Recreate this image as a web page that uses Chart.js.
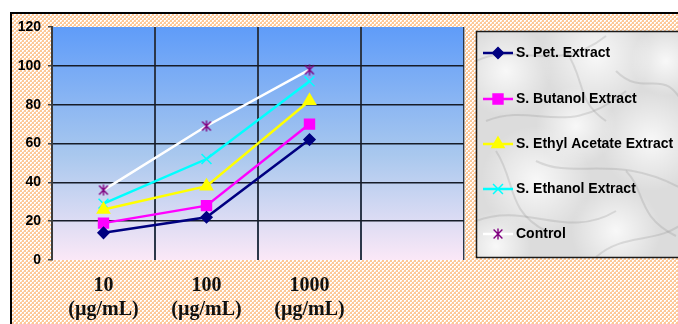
<!DOCTYPE html>
<html>
<head>
<meta charset="utf-8">
<script src="https://cdn.jsdelivr.net/npm/chart.js@4.4.1/dist/chart.umd.min.js"></script>
<style>
  html, body { margin: 0; padding: 0; background: #ffffff; }
  #wrap { width: 678px; height: 324px; position: relative; }
  canvas { display: block; }
</style>
</head>
<body>
<div id="wrap"><canvas id="chart" width="678" height="324"></canvas></div>
<script>
// Concentration categories (the fourth slot is left empty on purpose)
const categories = [['10', '(µg/mL)'], ['100', '(µg/mL)'], ['1000', '(µg/mL)'], ''];

// Activity (%) per extract at each concentration
const petExtract          = [14, 22, 62];
const butanolExtract      = [19, 28, 70];
const ethylAcetateExtract = [26, 38, 82];
const ethanolExtract      = [29, 52, 92];
const controlValues       = [36, 69, 98];

const seriesNames = ['S. Pet. Extract', 'S. Butanol Extract', 'S. Ethyl Acetate Extract', 'S. Ethanol Extract', 'Control'];

// Y axis range and step
const yMin = 0, yMax = 120, yStep = 20;

// Asterisk marker (x with a vertical bar)
function asteriskMarker(color, size) {
  const c = document.createElement('canvas');
  c.width = size; c.height = size;
  const g = c.getContext('2d');
  g.strokeStyle = color;
  g.lineWidth = 1.4;
  const m = size / 2, r = size / 2 - 0.5, d = r * 0.8;
  g.beginPath();
  g.moveTo(m - d, m - d); g.lineTo(m + d, m + d);
  g.moveTo(m + d, m - d); g.lineTo(m - d, m + d);
  g.moveTo(m, m - r); g.lineTo(m, m + r);
  g.stroke();
  return c;
}
const controlMarker = asteriskMarker('#800080', 12);

// Peach dotted fill for the outer panel
function peachTile() {
  const c = document.createElement('canvas');
  c.width = 4; c.height = 4;
  const g = c.getContext('2d');
  g.fillStyle = '#fdc898';
  g.fillRect(0, 0, 4, 4);
  g.fillStyle = '#ffffff';
  g.fillRect(0, 0, 2, 2);
  g.fillRect(2, 2, 2, 2);
  g.fillStyle = '#fee0c4';
  g.fillRect(1, 1, 1, 1);
  g.fillRect(3, 3, 1, 1);
  return c;
}

// Light marble texture for the legend panel
function drawMarble(ctx, x, y, w, h) {
  ctx.save();
  ctx.beginPath(); ctx.rect(x, y, w, h); ctx.clip();
  ctx.fillStyle = '#dcdcdc';
  ctx.fillRect(x, y, w, h);
  const blobs = [[30, 40, 45], [120, 25, 55], [175, 110, 50], [60, 150, 55], [140, 200, 45], [20, 215, 35], [100, 95, 40], [190, 30, 35]];
  blobs.forEach(([bx, by, br]) => {
    const gr = ctx.createRadialGradient(x + bx, y + by, 0, x + bx, y + by, br);
    gr.addColorStop(0, 'rgba(255,255,255,0.8)');
    gr.addColorStop(1, 'rgba(255,255,255,0)');
    ctx.fillStyle = gr;
    ctx.fillRect(x, y, w, h);
  });
  const veins = [
    [[0, 30], [40, 10], [80, 45], [130, 5]],
    [[10, 90], [60, 70], [90, 110], [150, 60]],
    [[60, 130], [100, 150], [140, 120], [210, 160]],
    [[0, 190], [50, 170], [90, 210], [140, 180]],
    [[120, 226], [150, 200], [180, 215], [210, 190]],
    [[140, 40], [170, 70], [190, 30], [210, 80]],
    [[20, 120], [40, 150], [30, 180], [70, 200]],
    [[90, 20], [110, 50], [100, 70], [130, 90]],
    [[150, 140], [170, 160], [160, 185], [200, 205]]
  ];
  ctx.strokeStyle = 'rgba(130,130,130,0.22)';
  ctx.lineWidth = 2;
  veins.forEach(v => {
    ctx.beginPath();
    ctx.moveTo(x + v[0][0], y + v[0][1]);
    ctx.bezierCurveTo(x + v[1][0], y + v[1][1], x + v[2][0], y + v[2][1], x + v[3][0], y + v[3][1]);
    ctx.stroke();
  });
  ctx.restore();
}

const backdrop = {
  id: 'backdrop',
  beforeDraw(chart) {
    const ctx = chart.ctx, a = chart.chartArea;
    ctx.save();
    ctx.fillStyle = '#ffffff';
    ctx.fillRect(0, 0, chart.width, chart.height);
    ctx.fillStyle = ctx.createPattern(peachTile(), 'repeat');
    ctx.fillRect(12, 14, chart.width - 12, chart.height - 14);
    // outer frame
    ctx.strokeStyle = '#000000';
    ctx.lineWidth = 2;
    ctx.beginPath();
    ctx.moveTo(11, chart.height); ctx.lineTo(11, 13); ctx.lineTo(chart.width, 13);
    ctx.stroke();
    // plot area fill
    const gr = ctx.createLinearGradient(0, a.top, 0, a.bottom);
    gr.addColorStop(0, '#5f9cf9');
    gr.addColorStop(0.55, '#a9c8ee');
    gr.addColorStop(1, '#fbe8f7');
    ctx.fillStyle = gr;
    ctx.fillRect(a.left, a.top, a.right - a.left, a.bottom - a.top);
    ctx.restore();
  },
  afterDraw(chart) {
    const ctx = chart.ctx, a = chart.chartArea;
    ctx.save();
    // right edge of plot area
    ctx.strokeStyle = '#a8a8a8';
    ctx.lineWidth = 1;
    ctx.beginPath();
    ctx.moveTo(a.right + 0.5, a.top); ctx.lineTo(a.right + 0.5, a.bottom);
    ctx.stroke();

    // legend panel
    const lx = 476, ly = 31, lw = 210, lh = 226;
    drawMarble(ctx, lx, ly, lw, lh);
    ctx.strokeStyle = '#1a1a1a';
    ctx.lineWidth = 1.5;
    ctx.strokeRect(lx + 0.5, ly + 0.5, lw, lh);

    const rowY = [53, 99, 144, 189, 234];
    chart.data.datasets.forEach((ds, i) => {
      const y = rowY[i];
      ctx.strokeStyle = ds.borderColor;
      ctx.lineWidth = 2.5;
      ctx.beginPath();
      ctx.moveTo(483, y); ctx.lineTo(513, y);
      ctx.stroke();
      if (ds.pointStyle instanceof HTMLCanvasElement) {
        ctx.drawImage(ds.pointStyle, 498 - ds.pointStyle.width / 2, y - ds.pointStyle.height / 2);
      } else {
        ctx.fillStyle = ds.pointBackgroundColor;
        ctx.strokeStyle = ds.pointBorderColor;
        ctx.lineWidth = ds.pointBorderWidth;
        Chart.helpers.drawPoint(ctx, {
          pointStyle: ds.pointStyle,
          radius: ds.pointRadius,
          rotation: 0,
          borderWidth: ds.pointBorderWidth
        }, 498, y);
      }
      ctx.font = 'bold 14px "Liberation Sans", Arial, sans-serif';
      ctx.textBaseline = 'middle';
      ctx.textAlign = 'left';
      ctx.fillStyle = '#000000';
      ctx.fillText(ds.label, 516, y + 0.5);
    });
    ctx.restore();
  }
};

function series(label, data, color, style, radius, lineColor) {
  return {
    label,
    data,
    borderColor: lineColor || color,
    backgroundColor: color,
    borderWidth: 2.5,
    pointStyle: style,
    pointRadius: radius,
    pointHoverRadius: radius,
    pointBackgroundColor: color,
    pointBorderColor: color,
    pointBorderWidth: 1.5,
    tension: 0
  };
}

const datasets = [
  series(seriesNames[0], petExtract, '#000080', 'rectRot', 5.5),
  series(seriesNames[1], butanolExtract, '#ff00ff', 'rect', 7),
  series(seriesNames[2], ethylAcetateExtract, '#ffff00', 'triangle', 7),
  series(seriesNames[3], ethanolExtract, '#00ffff', 'crossRot', 7),
  series(seriesNames[4], controlValues, '#800080', controlMarker, 6, '#ffffff')
];

new Chart(document.getElementById('chart'), {
  type: 'line',
  data: { labels: categories, datasets },
  options: {
    responsive: false,
    devicePixelRatio: 1,
    animation: false,
    layout: { padding: { left: 0, top: 27, right: 214, bottom: 0 } },
    plugins: {
      legend: { display: false },
      tooltip: { enabled: false }
    },
    scales: {
      x: {
        type: 'category',
        offset: true,
        afterFit(scale) { scale.height = 64; },
        grid: {
          offset: true,
          drawTicks: false,
          lineWidth: 2,
          color: (c) => (c.index === 0 || c.index === categories.length) ? 'rgba(0,0,0,0)' : '#2c374a'
        },
        border: { display: false },
        ticks: {
          padding: 14,
          color: '#111111',
          autoSkip: false,
          maxRotation: 0,
          font: { family: '"Liberation Serif", "Times New Roman", serif', weight: 'bold', size: 20, lineHeight: '24px' }
        }
      },
      y: {
        min: yMin,
        max: yMax,
        afterFit(scale) { scale.width = 52; },
        grid: {
          lineWidth: 1.5,
          color: (c) => (c.tick && (c.tick.value === yMin || c.tick.value === yMax)) ? 'rgba(0,0,0,0)' : '#161c28',
          tickColor: '#444444',
          tickLength: 4,
          tickWidth: 1.5
        },
        border: { display: true, color: '#3c3c3c', width: 2 },
        ticks: {
          stepSize: yStep,
          padding: 7,
          color: '#000000',
          font: { family: '"Liberation Sans", Arial, sans-serif', weight: 'bold', size: 14 }
        }
      }
    }
  },
  plugins: [backdrop]
});
</script>
</body>
</html>
